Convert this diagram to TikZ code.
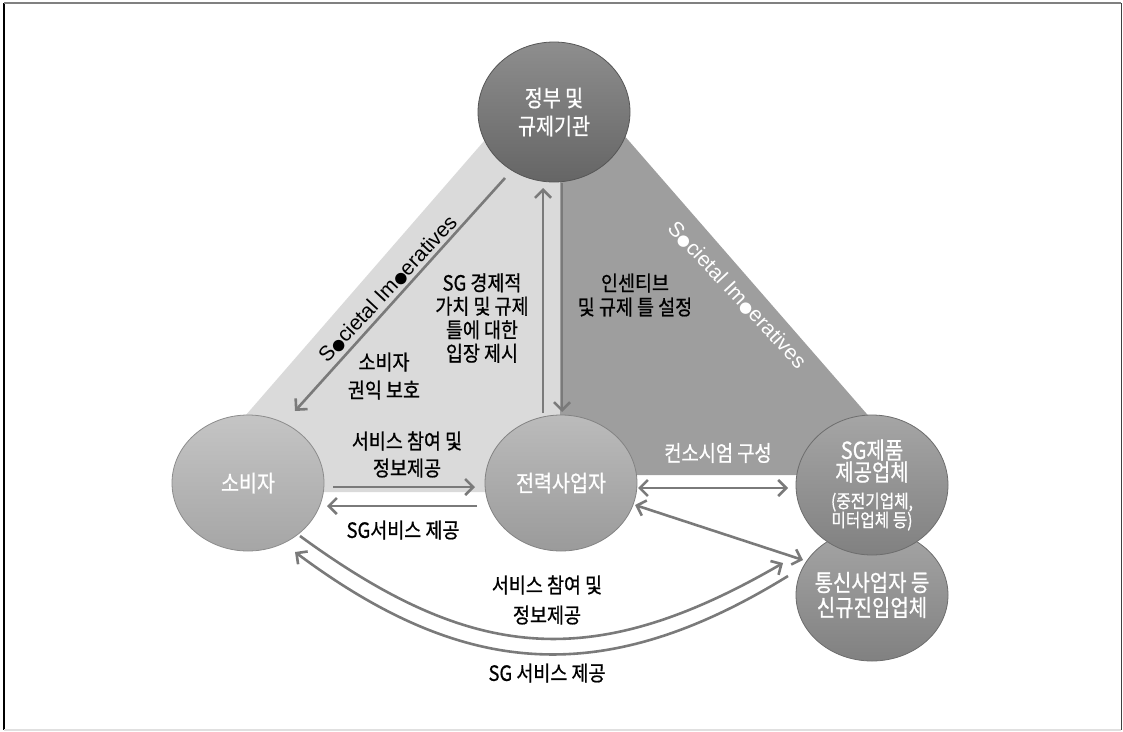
\documentclass[tikz,border=0pt]{standalone}
\usepackage{fontspec}
\setmainfont{Liberation Sans}
\newfontfamily\kr{Noto Sans CJK KR}[FakeStretch=0.88,FakeBold=0.8]
\newfontfamily\krw{Noto Sans CJK KR}[FakeStretch=0.85,FakeBold=0.8]
\newfontfamily\dv{DejaVu Sans}
\usetikzlibrary{shapes.geometric,arrows.meta,calc}
\definecolor{lightreg}{HTML}{DADADA}
\definecolor{darkreg}{HTML}{9E9E9E}
\definecolor{arrc}{HTML}{7A7A7A}
\definecolor{govc}{HTML}{6E6E6E}
\definecolor{consc}{HTML}{B4B4B4}
\definecolor{utilc}{HTML}{A8A8A8}
\definecolor{prodc}{HTML}{8C8C8C}
\begin{document}
\begin{tikzpicture}[x=1pt,y=-1pt,
  ball/.style={ellipse, inner sep=-30pt, minimum width=152pt, minimum height=136pt,
    top color=#1!78!white, bottom color=#1!92!black, draw=#1!78!black, line width=0.8pt,
    text=white, align=center, font=\krw\fontsize{23}{28}\selectfont},
  lbl/.style={inner sep=0pt, align=center, font=\kr\fontsize{21}{24}\selectfont},
  soc/.style={inner sep=0pt, font=\fontsize{21}{24}\selectfont},
  arr/.style={draw=arrc, line width=2.6pt, -{Straight Barb[length=8pt,width=16pt]}},
  darr/.style={draw=arrc, line width=2.6pt, {Straight Barb[length=8pt,width=16pt]}-{Straight Barb[length=8pt,width=16pt]}}
]
\useasboundingbox (0,0) rectangle (1123,731);
% frame
\draw[line width=1.6pt, black] (4,3) -- (4,730);
\draw[line width=1.6pt, gray] (4,3) -- (1121,3);
\draw[line width=1.6pt, black!75] (1121.5,3) -- (1121.5,730);
\draw[line width=1.6pt, black!12] (4,730) -- (1121,730);
% regions
\fill[lightreg] (511,110) -- (179,492) -- (560,492) -- (560,110) -- cycle;
\fill[darkreg] (560,110) -- (602,110) -- (920,475) -- (560,475) -- cycle;
% circles
\node[ball=govc, minimum height=140pt] (gov) at (554,112) {정부 및\\규제기관};
\node[ball=consc] (cons) at (248,483) {소비자};
\node[ball=utilc] (util) at (561,483) {전력사업자};
\node[ball=prodc, minimum height=132pt, font=\krw\fontsize{23.5}{27}\selectfont] (tele) at (872,595) {통신사업자 등\\[-2pt]신규진입업체};
\node[ball=prodc, minimum height=140pt, font=\krw\fontsize{23.5}{27}\selectfont] (prod) at (872,485)
  {SG제품\\[-5pt]제공업체\\[0pt]{\fontsize{18.5}{20}\selectfont(중전기업체,}\\[-8pt]{\fontsize{18.5}{20}\selectfont 미터업체 등)}};
% societal texts
\node[soc, rotate=47] (soc1) at (388,289) {S{\dv\fontsize{15}{15}\selectfont●}cietal Im{\dv\fontsize{15}{15}\selectfont●}eratives};
\node[soc, rotate=-47, text=white] (soc2) at (737,295) {S{\dv\fontsize{15}{15}\selectfont●}cietal Im{\dv\fontsize{15}{15}\selectfont●}eratives};
% arrows
\draw[arr] ($(gov.center)+(-49,66)$) -- ($(cons.center)+(47,-72)$);
\draw[arr] ($(util.center)+(-18,-70)$) -- ($(gov.center)+(-11,76)$);
\draw[arr] ($(gov.center)+(8,71)$) -- ($(util.center)+(1,-71)$);
\draw[arr] ($(cons.center)+(85,4)$) -- ($(util.center)+(-86,4)$);
\draw[arr] ($(util.center)+(-84,23)$) -- ($(cons.center)+(79,23)$);
\draw[darr] ($(util.center)+(77,5)$) -- ($(prod.center)+(-84,3)$);
\draw[darr] ($(util.center)+(74,22)$) -- ($(tele.center)+(-69,-35)$);
\draw[arr] ($(cons.center)+(52,53)$) .. controls (470,660) and (590,675) .. ($(tele.center)+(-89,-32)$);
\draw[arr] ($(tele.center)+(-84,-19)$) .. controls (600,692) and (460,675) .. ($(cons.center)+(47,69)$);
% labels
\node[lbl, font=\kr\fontsize{21}{23.5}\selectfont] (t1) at (482,318) {SG 경제적\\가치 및 규제\\틀에 대한\\입장 제시};
\node[lbl] (t2) at (635,295) {인센티브\\및 규제 틀 설정};
\node[lbl, font=\kr\fontsize{21}{28}\selectfont] (t3) at (384,376) {소비자\\권익 보호};
\node[lbl, font=\kr\fontsize{21}{27}\selectfont] (t4) at (407,454.5) {서비스 참여 및\\정보제공};
\node[lbl] (t5) at (403,530) {SG서비스 제공};
\node[lbl, text=white, font=\krw\fontsize{22}{24}\selectfont] (t6) at (718,453) {컨소시엄 구성};
\node[lbl, font=\kr\fontsize{21}{30}\selectfont] (t7) at (547,600) {서비스 참여 및\\정보제공};
\node[lbl] (t8) at (547,673) {SG 서비스 제공};
\end{tikzpicture}
\end{document}
